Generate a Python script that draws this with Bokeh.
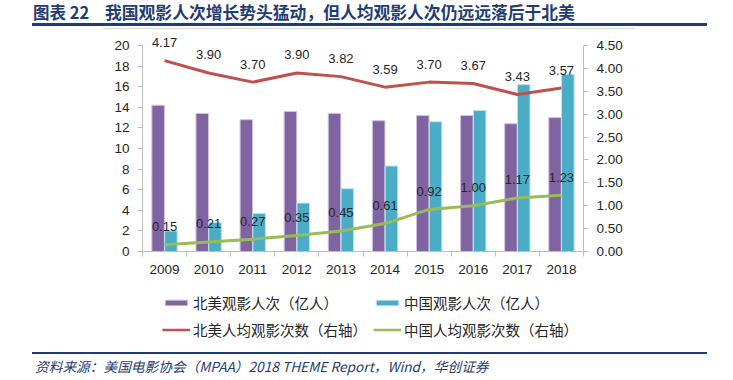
from bokeh.plotting import figure
from bokeh.layouts import column
from bokeh.models import (Range1d, LinearAxis, FixedTicker, NumeralTickFormatter, LabelSet,
                          ColumnDataSource, Legend, LegendItem, Div)
from bokeh.core.properties import value
from bokeh.transform import dodge
from bokeh.embed import file_html
from bokeh.resources import INLINE

years = [2009, 2010, 2011, 2012, 2013, 2014, 2015, 2016, 2017, 2018]
na_admissions = [14.2, 13.4, 12.8, 13.6, 13.4, 12.7, 13.2, 13.2, 12.4, 13.0]
cn_admissions = [2.0, 2.8, 3.7, 4.7, 6.1, 8.3, 12.6, 13.7, 16.2, 17.2]
na_per_capita = [4.17, 3.90, 3.70, 3.90, 3.82, 3.59, 3.70, 3.67, 3.43, 3.57]
cn_per_capita = [0.15, 0.21, 0.27, 0.35, 0.45, 0.61, 0.92, 1.00, 1.17, 1.23]
left_max = 20
right_max = 4.5
left_ticks = [0, 2, 4, 6, 8, 10, 12, 14, 16, 18, 20]
right_ticks = [0, 0.5, 1.0, 1.5, 2.0, 2.5, 3.0, 3.5, 4.0, 4.5]

legend_labels = ["北美观影人次（亿人）", "中国观影人次（亿人）",
                 "北美人均观影次数（右轴）", "中国人均观影次数（右轴）"]
title_no = "图表 22"
title_text = "我国观影人次增长势头猛动，但人均观影人次仍远远落后于北美"
source_text = "资料来源：美国电影协会（MPAA）2018 THEME Report，Wind，华创证券"

PURPLE = "#8064A2"
CYAN = "#4BACC6"
RED = "#C0504D"
GREEN = "#9BBB59"
NAVY = "#1F3D73"
AXIS = "#BFBFBF"
TXT = "#262626"
NUMFONT = "Liberation Sans"
CJK = "Noto Sans CJK SC"

W = 733
TOP_H = 30          # title strip
MAIN_H = 255        # chart strip
LEG_H = 60          # legend strip
SRC_H = 380 - TOP_H - MAIN_H - LEG_H
FL, FW = 142, 441   # frame left / width (px)
PLOT_TOP = 45       # page y of the 20 / 4.50 level
PLOT_BOT = 251      # page y of the 0 level
FRAME_H = PLOT_BOT - TOP_H
ext = FRAME_H / (PLOT_BOT - PLOT_TOP)

# ---------- title strip (HTML) ----------
top_html = (
    f'<div style="position:relative;width:{W}px;height:{TOP_H}px;overflow:hidden;">'
    f'<span style="position:absolute;left:33px;top:3px;font-family:\'{CJK}\';font-weight:bold;'
    f'font-size:16.5px;line-height:19px;color:{NAVY};white-space:nowrap;">{title_no}</span>'
    f'<span style="position:absolute;left:105px;top:3px;font-family:\'{CJK}\';font-weight:bold;'
    f'font-size:16.8px;line-height:19px;color:{NAVY};white-space:nowrap;">{title_text}</span>'
    f'<div style="position:absolute;left:32px;top:23px;width:675px;height:2.5px;background:{NAVY};"></div>'
    f'<div style="position:absolute;left:103px;top:28px;width:532px;height:1px;background:#D9D9D9;"></div>'
    '</div>'
)
top = Div(text=top_html, width=W, height=TOP_H, margin=0)

# ---------- main chart ----------
src = ColumnDataSource(dict(
    year=years, na=na_admissions, cn=cn_admissions,
    na_pc=na_per_capita, cn_pc=cn_per_capita,
    na_pc_txt=["%.2f" % v for v in na_per_capita],
    cn_pc_txt=["%.2f" % v for v in cn_per_capita],
))

p = figure(width=W, height=MAIN_H, output_backend="svg", toolbar_location=None,
           x_range=Range1d(years[0] - 0.5, years[-1] + 0.5),
           y_range=Range1d(0, left_max * ext),
           min_border_left=FL, min_border_right=W - FL - FW,
           min_border_top=0, min_border_bottom=MAIN_H - FRAME_H)
p.extra_y_ranges = {"right": Range1d(0, right_max * ext)}
p.outline_line_color = None
p.xgrid.visible = False
p.ygrid.visible = False

xa = p.xaxis[0]
xa.ticker = FixedTicker(ticks=years, minor_ticks=[y - 0.5 for y in years] + [years[-1] + 0.5])
xa.formatter = NumeralTickFormatter(format="0")
xa.major_tick_line_color = None
xa.major_tick_out = 0
xa.major_tick_in = 0
xa.minor_tick_out = 5
xa.minor_tick_in = 0
xa.minor_tick_line_color = AXIS
xa.axis_line_color = AXIS
xa.major_label_standoff = 8
xa.major_label_text_font = NUMFONT
xa.major_label_text_font_size = "13.5px"
xa.major_label_text_color = TXT

ya = p.yaxis[0]
ya.ticker = FixedTicker(ticks=left_ticks, minor_ticks=[])
ya.formatter = NumeralTickFormatter(format="0")
ya.bounds = (0, left_max)
ya.major_tick_out = 5
ya.major_tick_in = 0
ya.major_tick_line_color = AXIS
ya.minor_tick_line_color = None
ya.axis_line_color = AXIS
ya.major_label_standoff = 8
ya.major_label_text_font = NUMFONT
ya.major_label_text_font_size = "13.5px"
ya.major_label_text_color = TXT

ra = LinearAxis(y_range_name="right", ticker=FixedTicker(ticks=right_ticks, minor_ticks=[]),
                formatter=NumeralTickFormatter(format="0.00"), bounds=(0, right_max))
ra.major_tick_out = 5
ra.major_tick_in = 0
ra.major_tick_line_color = AXIS
ra.minor_tick_line_color = None
ra.axis_line_color = AXIS
ra.major_label_standoff = 8
ra.major_label_text_font = NUMFONT
ra.major_label_text_font_size = "13.5px"
ra.major_label_text_color = TXT
p.add_layout(ra, "right")

BAR_W = 0.285
OFF = 0.145
bar_na_style = dict(fill_color=PURPLE, line_color="#CFC3DF", line_width=1)
bar_cn_style = dict(fill_color=CYAN, line_color="#BFE3EE", line_width=1)
p.vbar(x=dodge("year", -OFF), top="na", width=BAR_W, source=src, **bar_na_style)
p.vbar(x=dodge("year", OFF), top="cn", width=BAR_W, source=src, **bar_cn_style)
p.line("year", "na_pc", source=src, y_range_name="right", line_color=RED, line_width=3)
p.line("year", "cn_pc", source=src, y_range_name="right", line_color=GREEN, line_width=3)

for col, txt in (("na_pc", "na_pc_txt"), ("cn_pc", "cn_pc_txt")):
    p.add_layout(LabelSet(x="year", y=col, text=txt, source=src, y_range_name="right",
                          y_offset=18, text_align="center", text_baseline="middle",
                          text_font=value(NUMFONT), text_font_size="13px", text_color=TXT))

# ---------- legend strip ----------
leg = figure(width=W, height=LEG_H, output_backend="svg", toolbar_location=None,
             x_range=Range1d(0, 1), y_range=Range1d(0, 1),
             x_axis_type=None, y_axis_type=None,
             min_border_left=FL, min_border_right=W - FL - FW,
             min_border_top=0, min_border_bottom=0)
leg.outline_line_color = None
leg.xgrid.visible = False
leg.ygrid.visible = False
# legend key renderers kept outside the visible range
r1 = leg.vbar(x=[-5], top=[-5], bottom=[-6], width=0.1, **bar_na_style)
r2 = leg.vbar(x=[-5], top=[-5], bottom=[-6], width=0.1, **bar_cn_style)
r3 = leg.line(x=[-6, -5], y=[-5, -5], line_color=RED, line_width=2.5)
r4 = leg.line(x=[-6, -5], y=[-5, -5], line_color=GREEN, line_width=2.5)
legend = Legend(items=[LegendItem(label=legend_labels[0], renderers=[r1]),
                       LegendItem(label=legend_labels[1], renderers=[r2]),
                       LegendItem(label=legend_labels[2], renderers=[r3]),
                       LegendItem(label=legend_labels[3], renderers=[r4])],
                orientation="horizontal", ncols=2,
                location=(162 - FL, (TOP_H + MAIN_H + LEG_H) - 340),
                glyph_width=28, glyph_height=7, label_standoff=3, spacing=6, label_height=21,
                label_text_font=CJK, label_text_font_size="14.5px", label_text_color=TXT,
                padding=0, margin=0, border_line_color=None, background_fill_alpha=0)
leg.add_layout(legend)

# ---------- source strip (HTML) ----------
src_html = (
    f'<div style="position:relative;width:{W}px;height:{SRC_H}px;overflow:hidden;">'
    f'<div style="position:absolute;left:32px;top:6.5px;width:675px;height:2.5px;background:{NAVY};"></div>'
    f'<span style="position:absolute;left:35px;top:13px;font-family:\'{CJK}\';font-style:italic;'
    f'font-size:13.7px;line-height:16px;color:{NAVY};white-space:nowrap;">{source_text}</span>'
    '</div>'
)
bottom = Div(text=src_html, width=W, height=SRC_H, margin=0)

layout = column(top, p, leg, bottom, spacing=0)
open("out.html", "w").write(file_html(layout, INLINE))
